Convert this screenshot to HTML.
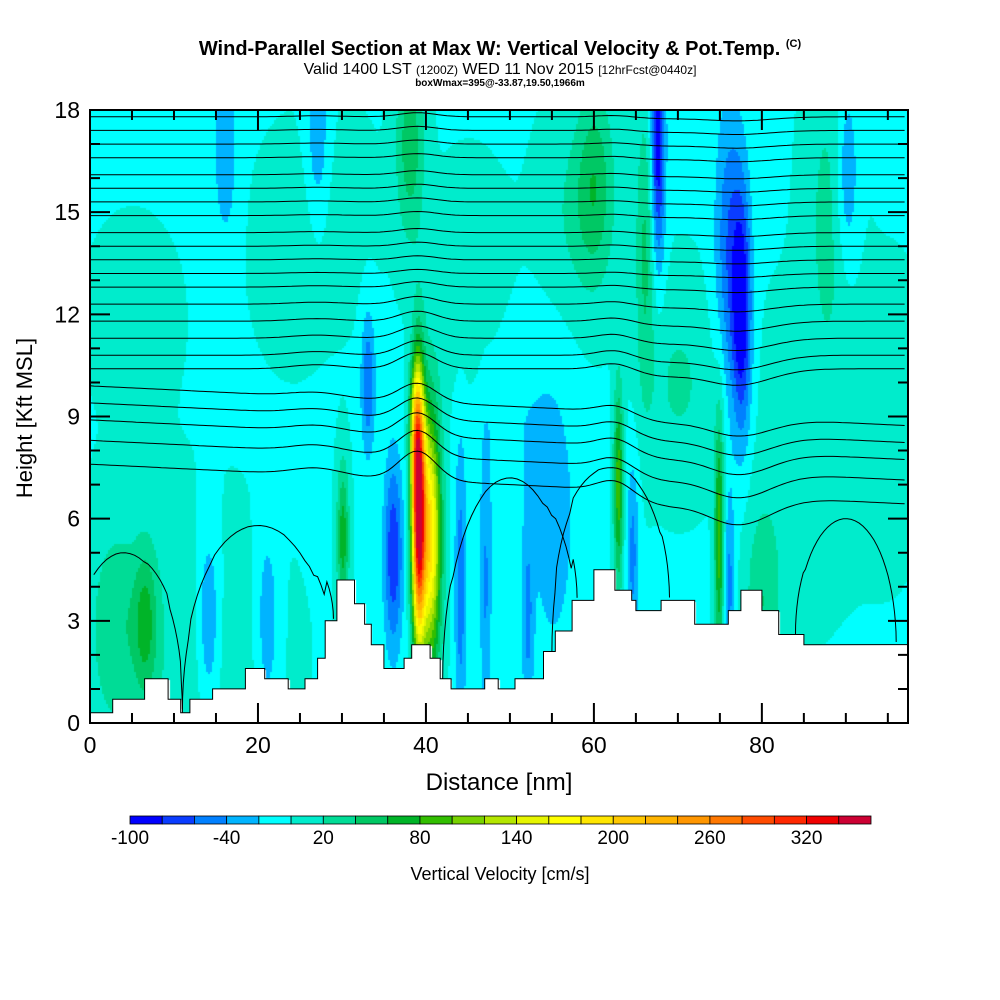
<!DOCTYPE html>
<html><head><meta charset="utf-8">
<style>
body{margin:0;background:#fff;width:1000px;height:1000px;overflow:hidden;font-family:"Liberation Sans",sans-serif}
#wrap{position:relative;width:1000px;height:1000px}
.t{position:absolute;white-space:nowrap;color:#000}
</style></head><body>
<div id="wrap">
<div class="t" style="left:0;width:1000px;text-align:center;top:38px;font-weight:bold;font-size:20px;">Wind-Parallel Section at Max W: Vertical Velocity &amp; Pot.Temp. <span style="font-size:11px;vertical-align:top">(C)</span></div>
<div class="t" style="left:0;width:1000px;text-align:center;top:61px;font-size:16px;">Valid 1400 LST <span style="font-size:12px">(1200Z)</span> WED 11 Nov 2015 <span style="font-size:12px">[12hrFcst@0440z]</span></div>
<div class="t" style="left:0;width:1000px;text-align:center;top:78px;font-size:10px;font-weight:bold">boxWmax=395@-33.87,19.50,1966m</div>
<canvas id="field" width="818" height="613" style="position:absolute;left:90px;top:110px"></canvas>
<svg id="svg" width="1000" height="1000" style="position:absolute;left:0;top:0"></svg>
</div>
<script>
// ---- data ----
const xMax = 97.4, zMax = 18;
const xTicks = [0,20,40,60,80];
const yTicks = [0,3,6,9,12,15,18];
const cbLevels = [-100,-80,-60,-40,-20,0,20,40,60,80,100,120,140,160,180,200,220,240,260,280,300,320,340,360];
const cbLabels = [-100,-40,20,80,140,200,260,320];
const cbColors = ["#0000ff","#0a3cff","#0080ff","#00b4ff","#00ffff","#00eccc","#00dc96","#00c864","#00b428","#32be00","#78d200","#b4e600","#e6f500","#ffff00","#ffe600","#ffc800","#ffb400","#ff9600","#ff7800","#ff4b00","#ff2800","#f00000","#cc0033"];
// terrain step: [start nm, height kft]
const terrainX = [0,2.7,6.5,9.3,10.8,11.9,14.6,18.5,20.8,23.6,25.6,27.1,28.0,29.4,31.5,32.7,33.5,35,37.4,38.3,40.5,41.7,43,47,48.6,50.6,52,54,55.4,57.4,60,62.5,64.5,65,68,72,76,77.5,80,82,85];
const terrainZ = [0.3,0.7,1.3,0.7,0.3,0.7,1.0,1.6,1.3,1.0,1.3,1.9,3.0,4.2,3.5,2.9,2.3,1.6,1.9,2.3,1.9,1.3,1.0,1.3,1.0,1.3,1.3,2.1,2.7,3.6,4.5,3.9,3.6,3.3,3.6,2.9,3.3,3.9,3.3,2.6,2.3];
// vertical velocity features
const fX  = [39, 40.4, 38.6, 36, 33, 30, 6.5, 3, 14, 21, 44, 47, 52, 62.8, 64.5, 74.8, 76, 80, 67.5, 77.5, 76, 38, 27, 60, 88, 90, 16, 10, 55, 70, 24, 45, 58, 85, 50, 66, 5, 30, 95];
const fZ  = [6.3, 5.5, 8.6, 5, 10, 5.5, 3, 3, 3, 3, 4, 4, 3, 7, 5, 5.5, 4, 3.5, 17, 12, 14, 17, 17, 16, 15, 16, 17, 2, 6, 10, 14, 13, 15, 8, 9, 14, 12, 15, 9];
const fW  = [345, 190, 90, -75, -55, 75, 55, 30, -45, -35, -50, -40, -40, 95, -45, 95, -45, 40, -95, -90, -55, 55, -35, 45, 30, -45, -35, 18, -30, 25, 15, 20, 25, 15, -15, 45, 8, 10, 10];
const fSX = [0.55, 0.9, 0.5, 0.8, 0.6, 0.5, 1, 2, 1, 1, 0.5, 0.5, 0.5, 0.4, 0.5, 0.4, 0.5, 1.5, 0.6, 0.8, 1.2, 1.2, 1, 1.5, 2, 1, 1, 8, 2, 3, 3, 3, 3, 4, 3, 0.8, 4, 3, 3];
const fSZ = [2.6, 2.6, 1.4, 2, 1.5, 1.5, 1.5, 2, 2, 2, 3, 3, 2, 2, 2, 2.5, 2, 2, 2.5, 2.5, 3, 2, 2, 2, 3, 2, 2, 3, 3, 2, 2, 2, 2, 3, 2, 3, 2, 2, 3];
// potential temperature line heights (kft at x=0)
const thetaBase = [17.8,17.4,17.0,16.6,16.1,15.7,15.3,14.9,14.4,14.0,13.6,13.2,12.8,12.3,11.8,11.3,10.8,10.4,9.9,9.4,8.9,8.3,7.6];
const bumpX = [39, 68, 77, 62.5, 27];
const bumpA = [0.8, -0.3, -0.8, 0.3, 0.2];
const bumpS = [2.2, 3, 4, 2, 3];
// lower dome contours: center nm, top kft, half-width nm
const domeX=[4,20,50,62,90];
const domeZ=[5.0,5.8,7.2,7.5,6.0];
const domeW=[7,9,8,7,6];

// ---- scales ----
const X0=90,X1=908,Y0=723,Y1=110;
const sx = v => X0 + v/xMax*(X1-X0);
const sy = v => Y0 - v/zMax*(Y0-Y1);
const terr = x => { let h=terrainZ[0]; for(let i=0;i<terrainX.length;i++){ if(x>=terrainX[i]) h=terrainZ[i]; } return h; };
function w(x,z){ let s=-2.2; for(let i=0;i<fX.length;i++){ const dx=(x-fX[i])/fSX[i], dz=(z-fZ[i])/fSZ[i]; s+=fW[i]*Math.exp(-0.5*(dx*dx+dz*dz)); } return s; }
function colorFor(v){ let i=Math.floor((v+100)/20); i=Math.max(0,Math.min(cbColors.length-1,i)); return cbColors[i]; }

// field
const cv=document.getElementById('field'), ctx=cv.getContext('2d');
for(let px=0;px<818;px+=2){ const x=px/818*xMax; const t=terr(x);
  for(let py=0;py<613;py+=2){ const z=(613-py)/613*zMax; if(z<t) continue;
    ctx.fillStyle=colorFor(w(x,z)); ctx.fillRect(px,py,2,2); } }

const NS='http://www.w3.org/2000/svg', svg=document.getElementById('svg');
function el(tag,attrs,parent){ const e=document.createElementNS(NS,tag); for(const k in attrs) e.setAttribute(k,attrs[k]); (parent||svg).appendChild(e); return e; }

// theta lines
const gT=el('g',{});


thetaBase.forEach((b,li)=>{ let d=''; const decay=Math.max(0.15,(14-b)/6);
  for(let x=0;x<=xMax;x+=0.5){ let z=b - 0.012*x*(b<10?1:0);
    for(let j=0;j<bumpX.length;j++){ const dx=(x-bumpX[j])/bumpS[j]; z+=bumpA[j]*decay*Math.exp(-0.5*dx*dx); }
    if(z<terr(x)) z=terr(x);
    d+=(x===0?'M':'L')+sx(x).toFixed(1)+','+sy(z).toFixed(1); }
  const p=el('path',{d:d,fill:'none',stroke:'#000','stroke-width':1},gT);
  
  
});
for(let i=0;i<domeX.length;i++){ let d=''; for(let a=0;a<=Math.PI+0.01;a+=0.08){ const x=domeX[i]-Math.cos(a)*domeW[i]; if(x<0||x>xMax) continue; const tb=terr(x); const z=tb+(domeZ[i]-tb)*Math.sin(a); d+=(d?'L':'M')+sx(x).toFixed(1)+','+sy(Math.max(z,tb)).toFixed(1);}
  const p=el('path',{d:d,fill:'none',stroke:'#000','stroke-width':1},gT);
  
   }

// terrain
let td='M'+sx(0)+','+sy(terrainZ[0]);
for(let i=1;i<terrainX.length;i++){ td+='L'+sx(terrainX[i]).toFixed(1)+','+sy(terrainZ[i-1]).toFixed(1)+'L'+sx(terrainX[i]).toFixed(1)+','+sy(terrainZ[i]).toFixed(1); }
td+='L'+sx(xMax)+','+sy(terrainZ[terrainZ.length-1]);
const tp=el('path',{d:td+'L'+X1+','+Y0+'L'+X0+','+Y0+'Z',fill:'#fff',stroke:'#000','stroke-width':1});



// frame & ticks
const fr=el('rect',{x:X0,y:Y1,width:X1-X0,height:Y0-Y1,fill:'none',stroke:'#000','stroke-width':2});


let tk='';
for(let v=0;v<=xMax;v+=5){ const L=(v%20===0)?20:10; const x=sx(v); tk+=`M${x},${Y0}v${-L}M${x},${Y1}v${L}`; }
for(let v=0;v<=zMax;v+=1){ const L=(v%3===0)?20:10; const y=sy(v); tk+=`M${X0},${y}h${L}M${X1},${y}h${-L}`; }
const tks=el('path',{d:tk,stroke:'#000','stroke-width':2,fill:'none'});


xTicks.forEach(v=>{ const t=el('text',{x:sx(v),y:753,'font-size':23,'text-anchor':'middle','font-family':'Liberation Sans'}); t.textContent=v;
  
   });
yTicks.forEach(v=>{ const t=el('text',{x:80,y:sy(v)+8,'font-size':23,'text-anchor':'end','font-family':'Liberation Sans'}); t.textContent=v;
  
   });
const xt=el('text',{x:499,y:790,'font-size':24,'text-anchor':'middle','font-family':'Liberation Sans'}); xt.textContent='Distance [nm]';


const yt=el('text',{x:0,y:0,'font-size':22,'text-anchor':'middle','font-family':'Liberation Sans',transform:'translate(32,418) rotate(-90)'}); yt.textContent='Height [Kft MSL]';



// colorbar
const CB0=130,CB1=871,cbw=(CB1-CB0)/cbColors.length;
cbColors.forEach((c,i)=>{ const r=el('rect',{x:CB0+i*cbw,y:816,width:cbw,height:8,fill:c,stroke:'#000','stroke-width':0.8});
  
   });
const cbx=v=>CB0+(v-cbLevels[0])/(cbLevels[cbLevels.length-1]-cbLevels[0])*(CB1-CB0);
cbLabels.forEach(v=>{ const t=el('text',{x:cbx(v),y:844,'font-size':19,'text-anchor':'middle','font-family':'Liberation Sans'}); t.textContent=v;
  
   });
const ct=el('text',{x:500,y:880,'font-size':18,'text-anchor':'middle','font-family':'Liberation Sans'}); ct.textContent='Vertical Velocity [cm/s]';


</script>
</body></html>
